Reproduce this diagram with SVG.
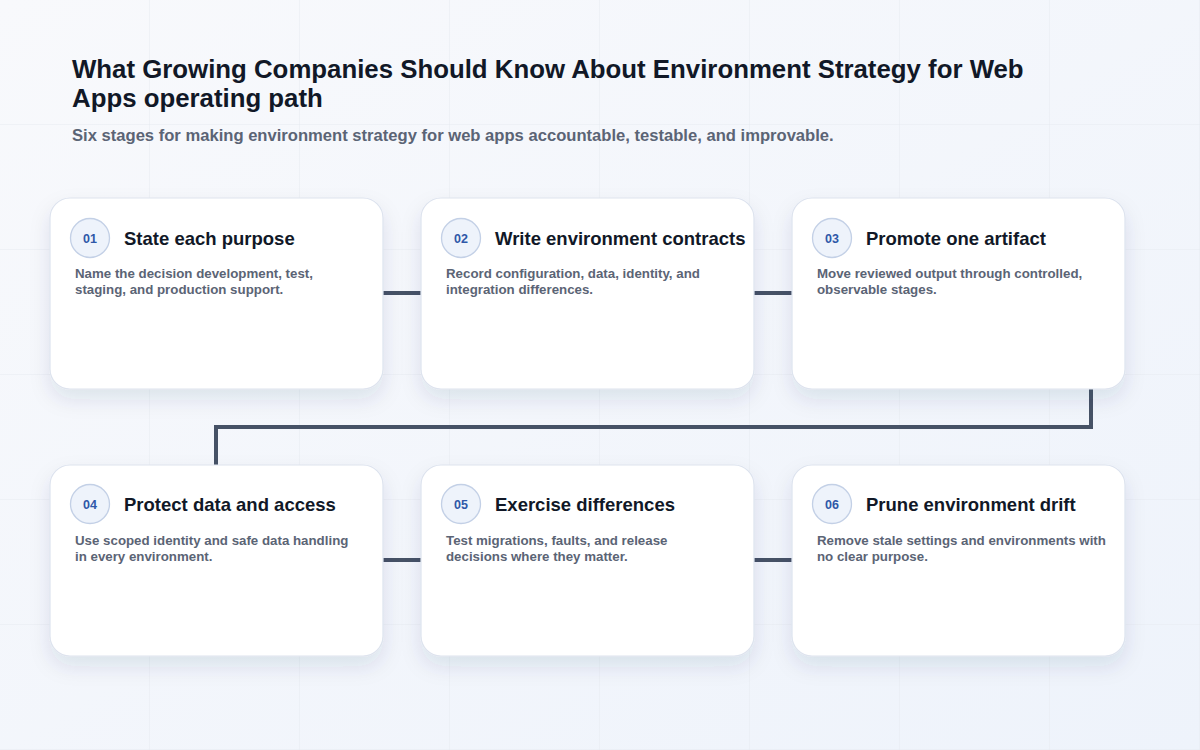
<svg xmlns="http://www.w3.org/2000/svg" width="1200" height="750" viewBox="0 0 1200 750">
<defs>
<linearGradient id="bg" x1="0" y1="0" x2="1" y2="1">
<stop offset="0" stop-color="#f8f9fc"/>
<stop offset="1" stop-color="#eef3fb"/>
</linearGradient>
<pattern id="grid" width="150" height="125" patternUnits="userSpaceOnUse">
<path d="M150 0V125M0 125H150" fill="none" stroke="#e6eaf1" stroke-width="1"/>
</pattern>
<filter id="sh" x="-20%" y="-20%" width="140%" height="150%">
<feDropShadow dx="0" dy="10" stdDeviation="10" flood-color="#1e3060" flood-opacity="0.10"/>
</filter>
<style>
.card{fill:#ffffff;stroke:#dde3ee;stroke-width:1.2}
.badge{fill:#eef3fb;stroke:#c3d0e6;stroke-width:1.3}
.num{font-family:"Liberation Sans",Arial,sans-serif;font-size:12.5px;font-weight:700;fill:#2f58a8;text-anchor:middle}
.ttl{font-family:"Liberation Sans",Arial,sans-serif;font-size:18.5px;font-weight:700;fill:#111827}
.desc{font-family:"Liberation Sans",Arial,sans-serif;font-size:13.3px;font-weight:700;fill:#5b6475}
.conn{fill:none;stroke:#465266;stroke-width:4;stroke-linejoin:miter}
</style>
</defs>
<rect width="1200" height="750" fill="url(#bg)"/>
<rect width="1200" height="750" fill="url(#grid)"/>
<text x="72" y="78" font-family="Liberation Sans, Arial, sans-serif" font-size="25.8" font-weight="700" fill="#111827">What Growing Companies Should Know About Environment Strategy for Web</text>
<text x="72" y="107" font-family="Liberation Sans, Arial, sans-serif" font-size="25.8" font-weight="700" fill="#111827">Apps operating path</text>
<text x="72" y="141" font-family="Liberation Sans, Arial, sans-serif" font-size="16.6" font-weight="700" fill="#5b6475">Six stages for making environment strategy for web apps accountable, testable, and improvable.</text>
<g id="connectors">
<path class="conn" d="M383 293H421"/>
<path class="conn" d="M754 293H792"/>
<path class="conn" d="M1091 389V427H216V465"/>
<path class="conn" d="M383 560H421"/>
<path class="conn" d="M754 560H792"/>
</g>
<g id="node1">
<rect class="card" x="50" y="198" width="333" height="191" rx="20" filter="url(#sh)"/>
<circle class="badge" cx="90" cy="238" r="19.5"/>
<text class="num" x="90" y="242.5">01</text>
<text class="ttl" x="124" y="244.5">State each purpose</text>
<text class="desc" x="75" y="277.5">Name the decision development, test,</text>
<text class="desc" x="75" y="293.5">staging, and production support.</text>
</g>
<g id="node2">
<rect class="card" x="421" y="198" width="333" height="191" rx="20" filter="url(#sh)"/>
<circle class="badge" cx="461" cy="238" r="19.5"/>
<text class="num" x="461" y="242.5">02</text>
<text class="ttl" x="495" y="244.5">Write environment contracts</text>
<text class="desc" x="446" y="277.5">Record configuration, data, identity, and</text>
<text class="desc" x="446" y="293.5">integration differences.</text>
</g>
<g id="node3">
<rect class="card" x="792" y="198" width="333" height="191" rx="20" filter="url(#sh)"/>
<circle class="badge" cx="832" cy="238" r="19.5"/>
<text class="num" x="832" y="242.5">03</text>
<text class="ttl" x="866" y="244.5">Promote one artifact</text>
<text class="desc" x="817" y="277.5">Move reviewed output through controlled,</text>
<text class="desc" x="817" y="293.5">observable stages.</text>
</g>
<g id="node4">
<rect class="card" x="50" y="465" width="333" height="191" rx="20" filter="url(#sh)"/>
<circle class="badge" cx="90" cy="504" r="19.5"/>
<text class="num" x="90" y="508.5">04</text>
<text class="ttl" x="124" y="511">Protect data and access</text>
<text class="desc" x="75" y="544.5">Use scoped identity and safe data handling</text>
<text class="desc" x="75" y="560.5">in every environment.</text>
</g>
<g id="node5">
<rect class="card" x="421" y="465" width="333" height="191" rx="20" filter="url(#sh)"/>
<circle class="badge" cx="461" cy="504" r="19.5"/>
<text class="num" x="461" y="508.5">05</text>
<text class="ttl" x="495" y="511">Exercise differences</text>
<text class="desc" x="446" y="544.5">Test migrations, faults, and release</text>
<text class="desc" x="446" y="560.5">decisions where they matter.</text>
</g>
<g id="node6">
<rect class="card" x="792" y="465" width="333" height="191" rx="20" filter="url(#sh)"/>
<circle class="badge" cx="832" cy="504" r="19.5"/>
<text class="num" x="832" y="508.5">06</text>
<text class="ttl" x="866" y="511">Prune environment drift</text>
<text class="desc" x="817" y="544.5">Remove stale settings and environments with</text>
<text class="desc" x="817" y="560.5">no clear purpose.</text>
</g>
</svg>
